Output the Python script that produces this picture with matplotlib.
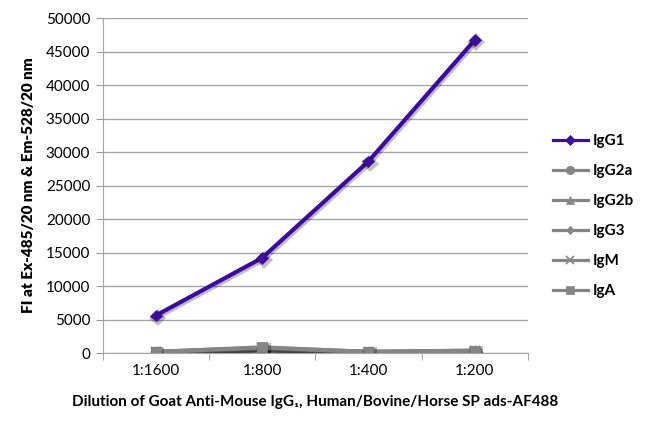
import matplotlib
matplotlib.use("Agg")
import matplotlib.pyplot as plt
import matplotlib.patheffects as pe
from matplotlib.lines import Line2D
from matplotlib.ticker import FixedLocator, NullFormatter

plt.rcParams['font.family'] = ['Lato', 'DejaVu Sans']

categories = ["1:1600", "1:800", "1:400", "1:200"]
series_names = ["IgG1", "IgG2a", "IgG2b", "IgG3", "IgM", "IgA"]
igg1 = [5600, 14200, 28600, 46700]
igg2a = [150, 700, 150, 300]
igg2b = [100, 650, 100, 250]
igg3 = [100, 600, 100, 250]
igm = [200, 750, 200, 350]
iga = [150, 850, 150, 350]
yticks = [0, 5000, 10000, 15000, 20000, 25000, 30000, 35000, 40000, 45000, 50000]

series = [igg1, igg2a, igg2b, igg3, igm, iga]
markers = ["D", "o", "^", "D", "x", "s"]
msizes = [6, 7, 7, 5, 7, 7]
colors = ["#3f0a9e", "#858585", "#858585", "#858585", "#858585", "#858585"]

fig = plt.figure(figsize=(6.5, 4.3), dpi=100)
ax = fig.add_axes([0.158, 0.179, 0.654, 0.779])

x = list(range(len(categories)))
shadow = [pe.SimpleLineShadow(offset=(1.2, -1.5), shadow_color="black", alpha=0.25, linewidth=3), pe.Normal()]
handles = []
for name, vals, m, ms, c in zip(series_names, series, markers, msizes, colors):
    ax.plot(x, vals, color=c, marker=m, markersize=ms, linewidth=3,
            markeredgecolor=c, markeredgewidth=1.5 if m == "x" else 0.5,
            path_effects=shadow, zorder=3 if name == "IgG1" else 2)
    handles.append(Line2D([], [], color=c, marker=m, markersize=ms - 1, linewidth=2.3,
                          markeredgecolor=c, markeredgewidth=1.2 if m == "x" else 0.5))

ax.set_xlim(-0.5, len(categories) - 0.5)
ax.set_ylim(0, 50000)
ax.set_yticks(yticks)
ax.set_yticklabels([str(v) for v in yticks], fontsize=11)
ax.set_xticks(x)
ax.set_xticklabels(categories, fontsize=11)
ax.xaxis.set_minor_locator(FixedLocator([i + 0.5 for i in range(-1, len(categories))]))
ax.xaxis.set_minor_formatter(NullFormatter())
ax.tick_params(axis='x', which='major', length=0, pad=8)
ax.tick_params(axis='x', which='minor', length=5, color="#999999", direction='out')
ax.tick_params(axis='y', length=5, color="#999999", direction='out', pad=4)

ax.grid(axis='y', color="#a6a6a6", linewidth=1)
ax.set_axisbelow(True)
for s in ["top", "right"]:
    ax.spines[s].set_visible(False)
ax.spines["left"].set_color("#a6a6a6")
ax.spines["bottom"].set_color("#a6a6a6")

ax.set_ylabel("FI at Ex-485/20 nm & Em-528/20 nm", fontsize=11, fontweight='heavy', labelpad=8)
ax.set_xlabel("Dilution of Goat Anti-Mouse IgG\u2081, Human/Bovine/Horse SP ads-AF488",
              fontsize=11, fontweight='bold', labelpad=12)

leg = fig.legend(handles=handles, labels=series_names, loc='upper left',
                 bbox_to_anchor=(0.829, 0.72), frameon=False,
                 handlelength=2.3, handletextpad=0.3, labelspacing=1.05,
                 prop={'weight': 'bold', 'size': 11})

fig.savefig("out.png", dpi=100)
